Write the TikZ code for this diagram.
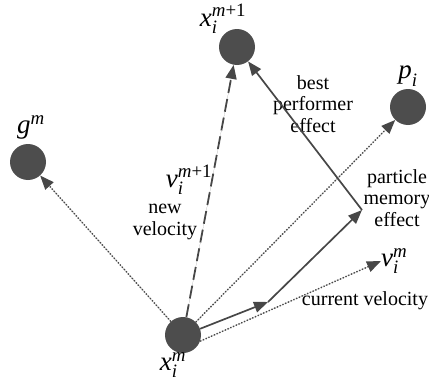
\documentclass[tikz,border=0pt]{standalone}
\usepackage{amsmath}
\usepackage{fontspec}
\setmainfont{Liberation Serif}
\usetikzlibrary{arrows.meta}
\definecolor{ball}{HTML}{4D4D4D}
\definecolor{ink}{HTML}{474747}
\newcommand\lbl[3]{$\textit{#1}_{\textit{#2}}^{#3}$}
\begin{document}
\begin{tikzpicture}[x=1pt,y=-1pt,
  ball/.style={circle,fill=ball,minimum size=36pt,inner sep=0pt},
  txt/.style={inner sep=0pt,align=center,font=\fontsize{20}{21.5}\selectfont},
  mth/.style={inner sep=0pt,font=\fontsize{27}{27}\selectfont},
  tip/.style={-{Triangle[length=14pt,width=11pt]}},
  solidarrow/.style={tip,draw=ink,fill=ink,line width=1.7pt},
  dotarrow/.style={tip,draw=ink,fill=ink,line width=1.4pt,dash pattern=on 1.3pt off 1.7pt},
  dasharrow/.style={tip,draw=ink,fill=ink,line width=1.8pt,dash pattern=on 13pt off 6pt}]
\useasboundingbox (0,0) rectangle (429,380);
\node[ball] (gm) at (28,162) {};
\node[ball] (xn) at (237,47) {};
\node[ball] (p) at (408,107) {};
\node[ball] (xm) at (183,335) {};
\coordinate (mid) at (268,302);
\coordinate (corner) at (362,210);
% labels
\node[mth] (lgm) at (31,128) {\lbl{g}{}{\textit{m}}};
\node[mth] (lxn) at (223,19) {\lbl{x}{i}{\textit{m}\textrm{+1}}};
\node[mth] (lp) at (408,76) {\lbl{p}{i}{}};
\node[mth] (lxm) at (173,365) {\lbl{x}{i}{\textit{m}}};
\node[mth] (lvn) at (189,180) {\lbl{v}{i}{\textit{m}\textrm{+1}}};
\node[txt] (lnew) at (165,222) {new\\velocity};
\node[txt] (lbest) at (313,104) {best\\performer\\effect};
\node[txt] (lmem) at (397,198) {particle\\memory\\effect};
\node[mth,anchor=west] (lvm) at (381,261) {\lbl{v}{i}{\textit{m}}};
\node[txt] (lcur) at (365,301) {current velocity};
% connectors
\draw[dotarrow] (xm) -- (gm);
\draw[dotarrow] (xm) -- (p);
\draw[dotarrow] (xm.-20) -- (lvm.west);
\draw[dasharrow] (xm) -- (xn);
\draw[solidarrow] (xm.20) -- (mid);
\draw[solidarrow] (mid) -- (corner);
\draw[solidarrow] (corner) -- (xn);
\end{tikzpicture}
\end{document}
